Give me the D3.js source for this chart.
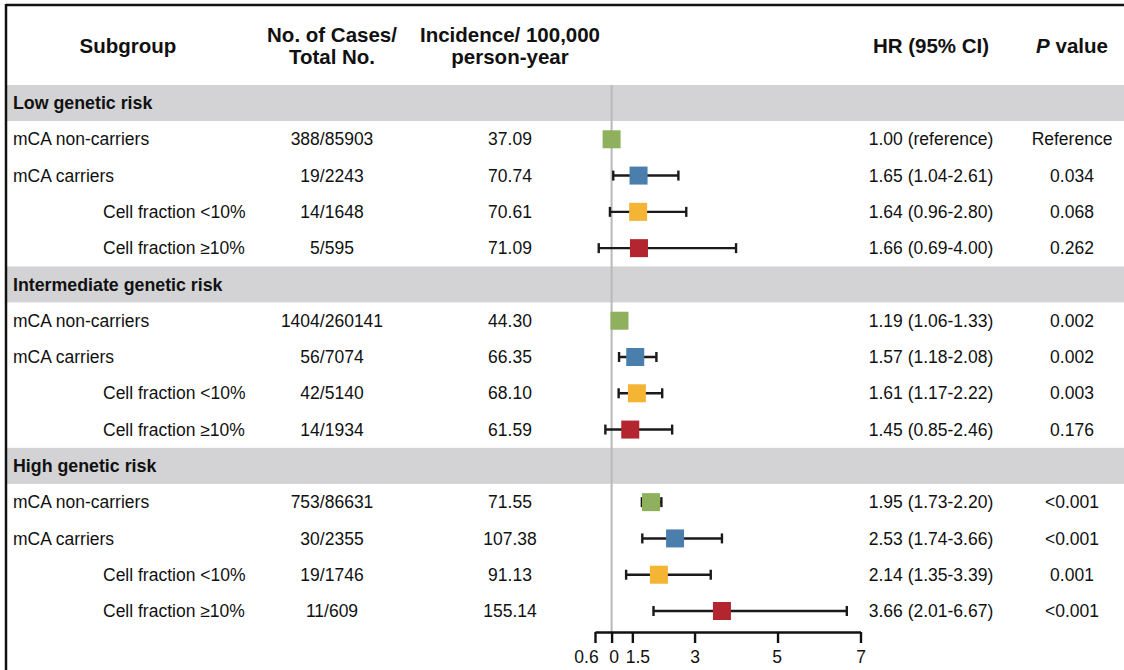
<!DOCTYPE html>
<html><head><meta charset="utf-8">
<script src="https://cdn.jsdelivr.net/npm/d3@7"></script>
<style>
html,body{margin:0;padding:0;background:#fff;}
svg text{font-family:"Liberation Sans",Arial,Helvetica,sans-serif;fill:#111;}
</style></head><body>
<svg id="chart" width="1124" height="670"></svg>
<script>
// ---- data ----
const groups = ["Low genetic risk", "Intermediate genetic risk", "High genetic risk"];
const subLabels = ["mCA non-carriers", "mCA carriers", "Cell fraction <10%", "Cell fraction \u226510%"];
const subIndent = [false, false, true, true];
const cases = [
  ["388/85903", "19/2243", "14/1648", "5/595"],
  ["1404/260141", "56/7074", "42/5140", "14/1934"],
  ["753/86631", "30/2355", "19/1746", "11/609"]
];
const incidence = [
  ["37.09", "70.74", "70.61", "71.09"],
  ["44.30", "66.35", "68.10", "61.59"],
  ["71.55", "107.38", "91.13", "155.14"]
];
const hr = [
  [1.00, 1.65, 1.64, 1.66],
  [1.19, 1.57, 1.61, 1.45],
  [1.95, 2.53, 2.14, 3.66]
];
const ciLow = [
  [null, 1.04, 0.96, 0.69],
  [1.06, 1.18, 1.17, 0.85],
  [1.73, 1.74, 1.35, 2.01]
];
const ciHigh = [
  [null, 2.61, 2.80, 4.00],
  [1.33, 2.08, 2.22, 2.46],
  [2.20, 3.66, 3.39, 6.67]
];
const hrText = [
  ["1.00 (reference)", "1.65 (1.04-2.61)", "1.64 (0.96-2.80)", "1.66 (0.69-4.00)"],
  ["1.19 (1.06-1.33)", "1.57 (1.18-2.08)", "1.61 (1.17-2.22)", "1.45 (0.85-2.46)"],
  ["1.95 (1.73-2.20)", "2.53 (1.74-3.66)", "2.14 (1.35-3.39)", "3.66 (2.01-6.67)"]
];
const pText = [
  ["Reference", "0.034", "0.068", "0.262"],
  ["0.002", "0.002", "0.003", "0.176"],
  ["<0.001", "<0.001", "0.001", "<0.001"]
];
const tickValues = [0.6, 1, 1.5, 3, 5, 7];
const tickLabels = ["0.6", "0", "1.5", "3", "5", "7"];
const subColors = ["#8fb15d", "#4a7fad", "#f4b434", "#b3262f"];

// ---- layout ----
const tickLabelShift = [-9, 2, 5, 0, -1, 0];
const svg = d3.select("#chart");
const W = 1124;
const rows = [];
groups.forEach((g, gi) => {
  rows.push({type: "group", label: g, gi});
  subLabels.forEach((s, si) => rows.push({type: "sub", gi, si}));
});
const y = d3.scalePoint().domain(d3.range(rows.length)).range([103, 611]);
const x = d3.scaleLinear().domain([0.6, 7]).range([595, 860.5]);
const bandH = 36;
const colCases = 332, colInc = 510, colHR = 931, colP = 1072;
const bodyFont = 17.5, boldFont = 17.8, headFont = 20.5;

// bands
rows.forEach((r, i) => {
  if (r.type === "group") {
    svg.append("rect").attr("x", 7).attr("y", y(i) - bandH / 2)
      .attr("width", W - 7).attr("height", bandH).attr("fill", "#d3d3d5");
  }
});

// frame (top & left)
svg.append("line").attr("x1", 6).attr("x2", W).attr("y1", 5).attr("y2", 5)
  .attr("stroke", "#111").attr("stroke-width", 2.5);
svg.append("line").attr("x1", 6).attr("x2", 6).attr("y1", 4).attr("y2", 670)
  .attr("stroke", "#111").attr("stroke-width", 2.5);

// header
const head = svg.append("g").attr("font-weight", "bold").attr("font-size", headFont).attr("text-anchor", "middle");
head.append("text").attr("x", 128).attr("y", 53).text("Subgroup");
head.append("text").attr("x", colCases).attr("y", 42).text("No. of Cases/");
head.append("text").attr("x", colCases).attr("y", 64).text("Total No.");
head.append("text").attr("x", colInc).attr("y", 42).text("Incidence/ 100,000");
head.append("text").attr("x", colInc).attr("y", 64).text("person-year");
head.append("text").attr("x", colHR).attr("y", 53).text("HR (95% CI)");
const pt = head.append("text").attr("x", colP).attr("y", 53);
pt.append("tspan").attr("font-style", "italic").text("P");
pt.append("tspan").text(" value");

// reference line
svg.append("line").attr("x1", x(1)).attr("x2", x(1))
  .attr("y1", y(0) - bandH / 2).attr("y2", 632)
  .attr("stroke", "#b9b9b9").attr("stroke-width", 2);

// rows
rows.forEach((r, i) => {
  const cy = y(i);
  if (r.type === "group") {
    svg.append("text").attr("x", 13).attr("y", cy).attr("dy", "0.35em")
      .attr("font-weight", "bold").attr("font-size", boldFont).text(r.label);
    return;
  }
  const g = r.gi, s = r.si;
  const t = svg.append("g").attr("font-size", bodyFont);
  t.append("text").attr("x", subIndent[s] ? 103 : 13).attr("y", cy).attr("dy", "0.35em").text(subLabels[s]);
  t.append("text").attr("x", colCases).attr("y", cy).attr("dy", "0.35em").attr("text-anchor", "middle").text(cases[g][s]);
  t.append("text").attr("x", colInc).attr("y", cy).attr("dy", "0.35em").attr("text-anchor", "middle").text(incidence[g][s]);
  t.append("text").attr("x", colHR).attr("y", cy).attr("dy", "0.35em").attr("text-anchor", "middle").text(hrText[g][s]);
  t.append("text").attr("x", colP).attr("y", cy).attr("dy", "0.35em").attr("text-anchor", "middle").text(pText[g][s]);

  // CI whiskers
  if (ciLow[g][s] != null) {
    const lo = x(ciLow[g][s]), hi = x(ciHigh[g][s]);
    const wg = svg.append("g").attr("stroke", "#1a1a1a").attr("stroke-width", 2.4);
    wg.append("line").attr("x1", lo).attr("x2", hi).attr("y1", cy).attr("y2", cy);
    wg.append("line").attr("x1", lo).attr("x2", lo).attr("y1", cy - 5).attr("y2", cy + 5);
    wg.append("line").attr("x1", hi).attr("x2", hi).attr("y1", cy - 5).attr("y2", cy + 5);
  }
  const bs = 18;
  svg.append("rect").attr("x", x(hr[g][s]) - bs / 2).attr("y", cy - bs / 2)
    .attr("width", bs).attr("height", bs).attr("fill", subColors[s]);
});

// axis
const axis = d3.axisBottom(x).tickValues(tickValues)
  .tickFormat((d, i) => tickLabels[i]).tickSize(11).tickSizeOuter(0).tickPadding(8);
const ag = svg.append("g").attr("transform", "translate(0,632)").call(axis);
ag.select(".domain").attr("stroke", "#111").attr("stroke-width", 2.4);
ag.selectAll(".tick line").attr("stroke", "#111").attr("stroke-width", 2.4);
ag.selectAll(".tick text").attr("font-size", 17.5).attr("fill", "#111")
  .attr("dx", (d, i) => tickLabelShift[i])
  .attr("font-family", "'Liberation Sans',Arial,sans-serif");
</script>
</body></html>
